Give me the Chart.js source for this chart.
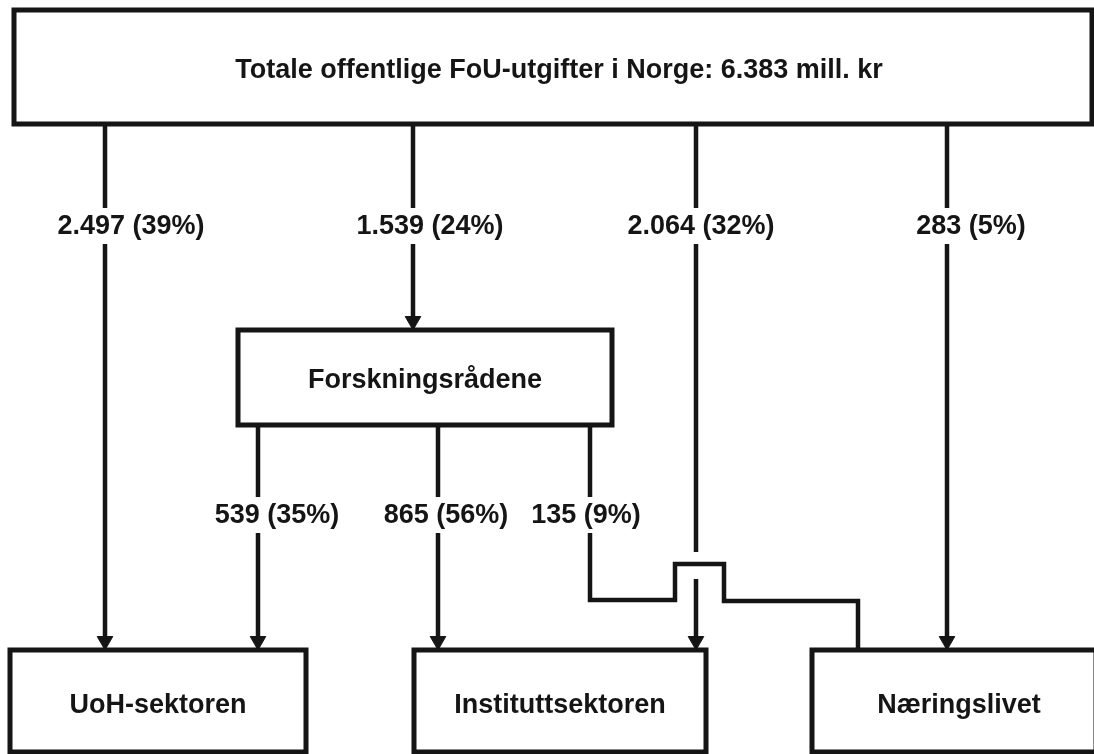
<!DOCTYPE html>
<html>
<head>
<meta charset="utf-8">
<script src="https://cdn.jsdelivr.net/npm/chart.js@4/dist/chart.umd.min.js"></script>
<style>
  html, body { margin: 0; padding: 0; background: #fff; }
  #box { width: 1094px; height: 754px; }
</style>
</head>
<body>
<div id="box"><canvas id="myChart"></canvas></div>
<script>
// data
const totalLabel = "Totale offentlige FoU-utgifter i Norge";
const totalAmount = "6.383";
const councilName = "Forskningsrådene";
const sectorNames = ["UoH-sektoren", "Instituttsektoren", "Næringslivet"];

// direct flows from the top box: UoH, Forskningsrådene, Institutt, Næringsliv
const directAmounts = ["2.497", "1.539", "2.064", "283"];
const directShares = [39, 24, 32, 5];

// flows out of Forskningsrådene: UoH, Institutt, Næringsliv
const councilAmounts = ["539", "865", "135"];
const councilShares = [35, 56, 9];

// layout (pixel units of the drawing)
const W = 1094, H = 754;
const INK = "#151515";
const FONT = "bold 27px 'Liberation Sans', Arial, Helvetica, sans-serif";
const ARROW = 9;

const boxes = {
  top: { x0: 14, y0: 10, x1: 1092, y1: 124, tx: 559, ty: 70 },
  council: { x0: 238, y0: 330, x1: 612, y1: 425, tx: 425, ty: 380 },
  uoh: { x0: 10, y0: 650, x1: 306, y1: 752, tx: 158, ty: 705 },
  inst: { x0: 414, y0: 650, x1: 706, y1: 752, tx: 560, ty: 705 },
  naer: { x0: 812, y0: 650, x1: 1096, y1: 752, tx: 959, ty: 705 },
};

// each route: list of segments, the last segment may end in an arrow
const directRoutes = [
  { segs: [[[105, 124], [105, 650]]], arrow: true, label: [131, 226] },
  { segs: [[[413, 124], [413, 330]]], arrow: true, label: [430, 226] },
  { segs: [[[696, 124], [696, 552]], [[696, 579], [696, 650]]], arrow: true, label: [701, 226] },
  { segs: [[[947, 124], [947, 650]]], arrow: true, label: [971, 226] },
];
const councilRoutes = [
  { segs: [[[258, 425], [258, 650]]], arrow: true, label: [277, 515] },
  { segs: [[[438, 425], [438, 650]]], arrow: true, label: [446, 515] },
  {
    segs: [[[590, 425], [590, 600], [675, 600], [675, 564], [724, 564], [724, 601], [858, 601], [858, 650]]],
    arrow: false,
    label: [586, 515],
  },
];

function boxDataset(b) {
  return {
    data: [
      { x: b.x0, y: b.y0 },
      { x: b.x1, y: b.y0 },
      { x: b.x1, y: b.y1 },
      { x: b.x0, y: b.y1 },
      { x: b.x0, y: b.y0 },
    ],
    borderColor: INK,
    borderWidth: 5,
    borderCapStyle: "square",
    borderJoinStyle: "miter",
    pointRadius: 0,
    tension: 0,
    clip: false,
  };
}

function routeDatasets(route) {
  let out = [];
  route.segs.forEach(function (seg, i) {
    let last = i == route.segs.length - 1;
    let pts = seg.map(function (p) {
      return { x: p[0], y: p[1] };
    });
    let radius = pts.map(function () {
      return 0;
    });
    if (last && route.arrow) {
      // pull the end point up so the triangle tip touches the box
      pts[pts.length - 1].y -= ARROW;
      radius[radius.length - 1] = ARROW;
    }
    out.push({
      data: pts,
      borderColor: INK,
      borderWidth: 4.5,
      borderJoinStyle: "miter",
      pointRadius: radius,
      pointStyle: "triangle",
      rotation: 180,
      pointBackgroundColor: INK,
      pointBorderColor: INK,
      pointBorderWidth: 1,
      tension: 0,
      clip: false,
    });
  });
  return out;
}

let datasets = [];
Object.keys(boxes).forEach(function (k) {
  datasets.push(boxDataset(boxes[k]));
});
directRoutes.forEach(function (r) {
  datasets = datasets.concat(routeDatasets(r));
});
councilRoutes.forEach(function (r) {
  datasets = datasets.concat(routeDatasets(r));
});

const flowLabels = [];
directRoutes.forEach(function (r, i) {
  flowLabels.push({ text: directAmounts[i] + " (" + directShares[i] + "%)", x: r.label[0], y: r.label[1] });
});
councilRoutes.forEach(function (r, i) {
  flowLabels.push({ text: councilAmounts[i] + " (" + councilShares[i] + "%)", x: r.label[0], y: r.label[1] });
});

const boxTexts = [
  { text: totalLabel + ": " + totalAmount + " mill. kr", b: boxes.top },
  { text: councilName, b: boxes.council },
  { text: sectorNames[0], b: boxes.uoh },
  { text: sectorNames[1], b: boxes.inst },
  { text: sectorNames[2], b: boxes.naer },
];

const textPlugin = {
  id: "flowText",
  afterDatasetsDraw(chart) {
    const ctx = chart.ctx;
    const xs = chart.scales.x;
    const ys = chart.scales.y;
    ctx.save();
    ctx.font = FONT;
    ctx.textAlign = "center";
    ctx.textBaseline = "middle";
    flowLabels.forEach(function (l) {
      let w = ctx.measureText(l.text).width;
      let px = xs.getPixelForValue(l.x);
      let py = ys.getPixelForValue(l.y);
      ctx.fillStyle = "#fff";
      ctx.fillRect(px - w / 2 - 3, py - 18, w + 6, 36);
      ctx.fillStyle = INK;
      ctx.fillText(l.text, px, py + 1);
    });
    boxTexts.forEach(function (t) {
      ctx.fillStyle = INK;
      ctx.fillText(t.text, xs.getPixelForValue(t.b.tx), ys.getPixelForValue(t.b.ty) + 1);
    });
    ctx.restore();
  },
};

const chart = new Chart(document.getElementById("myChart"), {
  type: "line",
  data: { datasets: datasets },
  options: {
    responsive: true,
    maintainAspectRatio: false,
    animation: false,
    events: [],
    layout: { padding: 0, autoPadding: false },
    plugins: {
      legend: { display: false },
      tooltip: { enabled: false },
    },
    scales: {
      x: { type: "linear", min: 0, max: W, display: false },
      y: { type: "linear", min: 0, max: H, reverse: true, display: false },
    },
  },
  plugins: [textPlugin],
});
</script>
</body>
</html>
